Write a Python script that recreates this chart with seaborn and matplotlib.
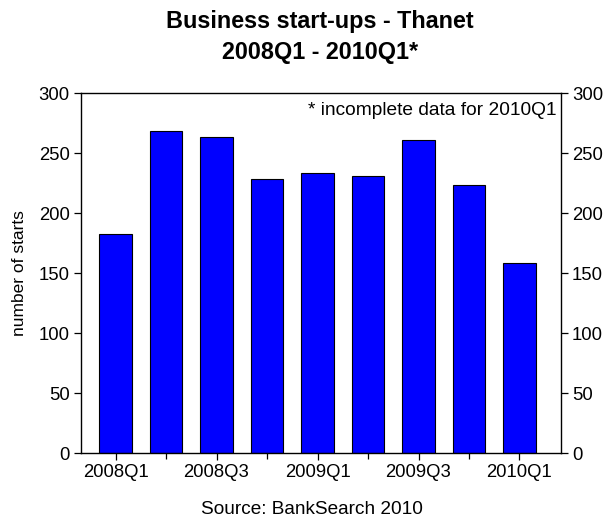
import matplotlib
matplotlib.use("Agg")
import matplotlib.pyplot as plt
from matplotlib.ticker import FixedLocator
import seaborn as sns
import pandas as pd

quarters = ["2008Q1", "2008Q2", "2008Q3", "2008Q4", "2009Q1",
            "2009Q2", "2009Q3", "2009Q4", "2010Q1"]
starts = [183, 269, 264, 229, 234, 231, 261, 224, 159]
y_ticks = [0, 50, 100, 150, 200, 250, 300]

sns.set_theme(style="white")
plt.rcParams["font.family"] = ["Liberation Sans", "DejaVu Sans"]
plt.rcParams["text.color"] = "black"
plt.rcParams["axes.labelcolor"] = "black"
plt.rcParams["xtick.color"] = "black"
plt.rcParams["ytick.color"] = "black"

df = pd.DataFrame({"quarter": quarters, "starts": starts})

fig = plt.figure(figsize=(6.13, 5.19), dpi=100)
ax = fig.add_axes([0.1317, 0.1266, 0.7833, 0.6934])

sns.barplot(data=df, x="quarter", y="starts", ax=ax, color="#0000FF",
            saturation=1, width=0.65, edgecolor="black", linewidth=0.8)

ax.set_xlim(-0.69, 8.82)
ax.set_ylim(0, 300)

for s in ax.spines.values():
    s.set_visible(True)
    s.set_color("black")
    s.set_linewidth(1.0)

# labelled major ticks every other quarter, unlabelled minor ticks between
major = list(range(0, len(quarters), 2))
ax.xaxis.set_major_locator(FixedLocator(major))
ax.set_xticklabels([quarters[i] for i in major])
ax.xaxis.set_minor_locator(FixedLocator([i for i in range(len(quarters)) if i % 2]))
ax.tick_params(axis="x", which="major", direction="out", length=5, width=0.9,
               bottom=True, top=False, labelsize=13.3, pad=3)
ax.tick_params(axis="x", which="minor", direction="out", length=4, width=0.9,
               bottom=True, top=False)

ax.set_yticks(y_ticks)
ax.tick_params(axis="y", direction="out", length=5, width=0.9, left=True,
               right=True, labelleft=True, labelright=True, labelsize=13.3,
               pad=3)

ax.set_xlabel("")
ax.set_ylabel("number of starts", fontsize=12.5, labelpad=8)

ax.text(0.99, 0.975, "* incomplete data for 2010Q1", transform=ax.transAxes,
        ha="right", va="top", fontsize=13.8)

fig.text(0.522, 0.946, "Business start-ups - Thanet", ha="center",
         va="baseline", fontsize=16.8, fontweight="bold")
fig.text(0.522, 0.886, "2008Q1 - 2010Q1*", ha="center", va="baseline",
         fontsize=16.8, fontweight="bold")
fig.text(0.509, 0.0105, "Source: BankSearch 2010", ha="center", va="baseline",
         fontsize=13.7)

fig.savefig("out.png", dpi=100)
